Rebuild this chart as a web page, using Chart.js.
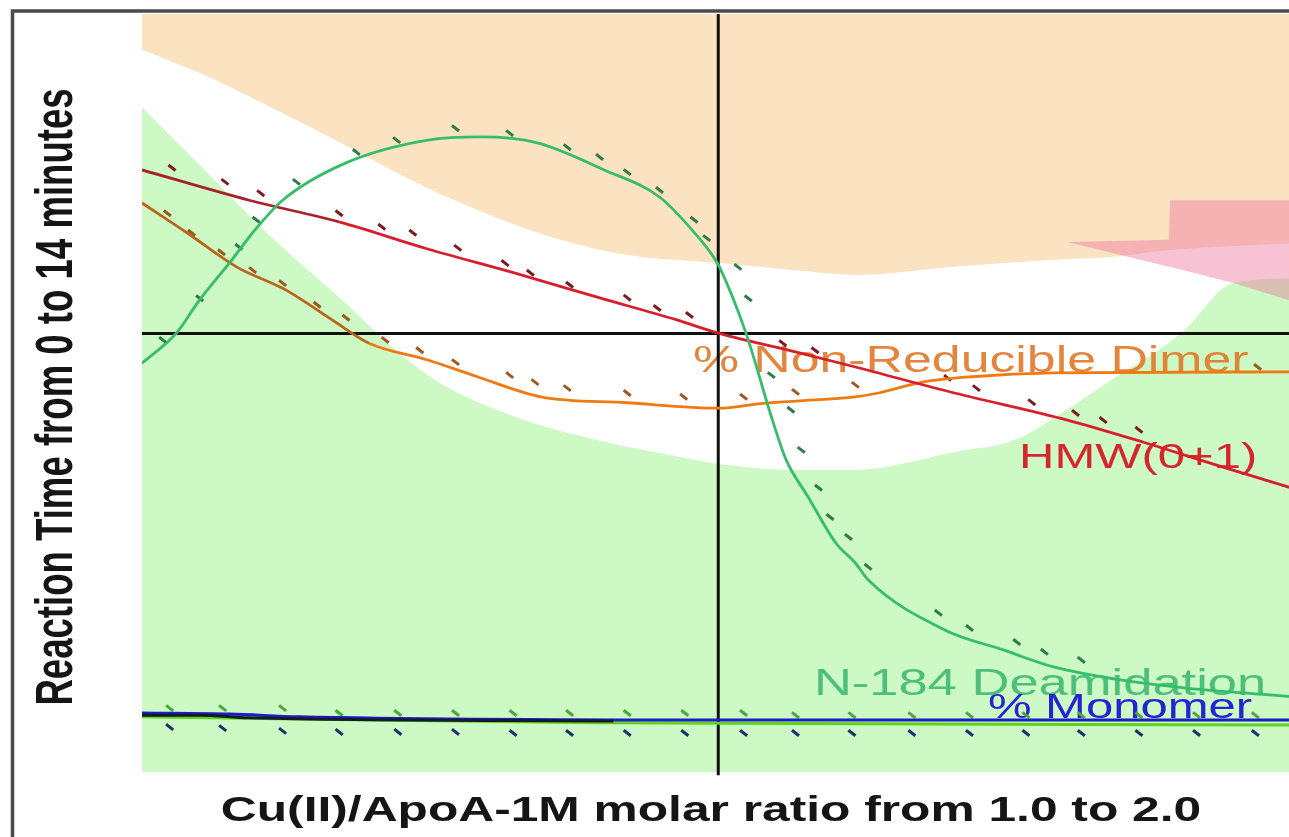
<!DOCTYPE html>
<html lang="en">
<head>
<meta charset="UTF-8" />
<title>Contour Profiler</title>
<script src="https://cdn.jsdelivr.net/npm/chart.js"></script>
<style>
  html, body { margin: 0; padding: 0; background: #fff; overflow: hidden; }
  canvas { display: block; }
</style>
</head>
<body>
<canvas id="profiler" width="1302" height="837"></canvas>
<script>
  // x: Cu(II)/ApoA-1M molar ratio, y: reaction time (min)
  const xRange = [1.0, 2.0];
  const yRange = [0, 14];
  const crossX = 1.5;
  const crossY = 8.1;

  // shaded regions (lower edge of the upper band, upper edge of the lower band)
  const tanX = [1.000, 1.050, 1.108, 1.165, 1.248, 1.306, 1.363, 1.421, 1.501, 1.565, 1.619, 1.705, 1.791, 1.841, 1.892, 2.000];
  const tanY = [13.34, 12.91, 12.32, 11.70, 10.78, 10.25, 9.83, 9.55, 9.40, 9.27, 9.18, 9.33, 9.46, 9.51, 9.64, 9.77];
  const greenX = [1.000, 1.050, 1.108, 1.162, 1.248, 1.320, 1.395, 1.449, 1.507, 1.567, 1.619, 1.705, 1.757, 1.798, 1.841, 1.902, 1.947, 2.000];
  const greenY = [12.28, 11.21, 9.96, 8.94, 7.33, 6.59, 6.13, 5.89, 5.67, 5.58, 5.58, 5.91, 6.13, 6.63, 7.24, 8.11, 9.03, 9.12];
  const pinkX = [1.803, 1.891, 1.892, 1.947, 2.000];
  const pinkTopY = [9.79, 9.83, 10.56, 10.56, 10.56];
  const pinkBotY = [9.79, 9.33, 9.33, 9.03, 8.68];

  // HMW(0+1)
  const hmwX = [1.000, 1.093, 1.171, 1.248, 1.326, 1.395, 1.464, 1.501, 1.567, 1.619, 1.705, 1.803, 1.869, 1.938, 2.000];
  const hmwY = [11.12, 10.56, 10.16, 9.66, 9.20, 8.77, 8.35, 8.10, 7.76, 7.48, 7.00, 6.50, 6.09, 5.63, 5.23];
  const hmwTickX = [1.026, 1.072, 1.103, 1.171, 1.208, 1.235, 1.274, 1.315, 1.337, 1.371, 1.421, 1.447, 1.475, 1.556, 1.584, 1.699, 1.724, 1.772, 1.810, 1.834, 1.865];
  const hmwTickY = [11.16, 10.90, 10.69, 10.32, 10.07, 9.96, 9.68, 9.40, 9.22, 9.00, 8.76, 8.57, 8.44, 7.92, 7.79, 7.28, 7.09, 6.83, 6.63, 6.50, 6.32];

  // % Non-Reducible Dimer
  const dimerX = [1.000, 1.039, 1.082, 1.125, 1.165, 1.197, 1.248, 1.291, 1.346, 1.421, 1.501, 1.535, 1.567, 1.619, 1.639, 1.677, 1.720, 1.791, 2.000];
  const dimerY = [10.51, 9.96, 9.33, 8.90, 8.35, 7.92, 7.61, 7.30, 6.93, 6.82, 6.72, 6.80, 6.85, 6.93, 7.00, 7.20, 7.30, 7.37, 7.39];
  const dimerTickX = [1.022, 1.043, 1.069, 1.096, 1.122, 1.152, 1.177, 1.211, 1.241, 1.272, 1.319, 1.341, 1.369, 1.421, 1.470, 1.522, 1.567, 1.619, 1.968];
  const dimerTickY = [10.32, 9.96, 9.60, 9.27, 9.03, 8.63, 8.39, 7.98, 7.79, 7.57, 7.33, 7.20, 7.09, 7.00, 6.93, 6.93, 7.02, 7.15, 7.48];

  // N-184 Deamidation
  const deamidX = [1.000, 1.030, 1.050, 1.078, 1.096, 1.122, 1.177, 1.248, 1.294, 1.343, 1.401, 1.449, 1.481, 1.496, 1.501, 1.524, 1.547, 1.559, 1.578, 1.602, 1.619, 1.630, 1.697, 1.748, 1.791, 1.849, 1.906, 2.000];
  const deamidY = [7.55, 8.11, 8.72, 9.46, 9.96, 10.56, 11.25, 11.67, 11.73, 11.62, 11.12, 10.62, 9.92, 9.51, 9.33, 8.11, 6.50, 5.76, 5.08, 4.23, 3.86, 3.55, 2.62, 2.25, 1.94, 1.70, 1.55, 1.39];
  const deamidTickX = [1.018, 1.050, 1.084, 1.099, 1.134, 1.186, 1.221, 1.272, 1.319, 1.369, 1.397, 1.421, 1.449, 1.479, 1.490, 1.517, 1.526, 1.546, 1.563, 1.572, 1.587, 1.597, 1.613, 1.630, 1.691, 1.718, 1.759, 1.783, 1.815];
  const deamidTickY = [7.98, 8.75, 9.70, 10.20, 10.90, 11.45, 11.67, 11.89, 11.80, 11.54, 11.36, 11.08, 10.75, 10.20, 9.86, 9.33, 8.75, 7.33, 6.69, 5.95, 5.25, 4.71, 4.34, 3.79, 2.94, 2.66, 2.40, 2.22, 2.07];

  // % Monomer and the two lines lying under it
  const monomerX = [1.000, 1.076, 1.136, 1.500, 2.000];
  const monomerY = [1.09, 1.07, 1.02, 0.96, 0.96];
  const darkX = [1.000, 1.050, 1.093, 1.409];
  const darkY = [1.05, 1.05, 1.00, 0.94];
  const limeX = [1.000, 1.395, 2.000];
  const limeY = [1.02, 0.91, 0.87];
  const monoTickX = [1.024, 1.070, 1.122, 1.171, 1.222, 1.272, 1.322, 1.371, 1.421, 1.471, 1.522, 1.567, 1.616, 1.668, 1.718, 1.767, 1.815, 1.865, 1.915, 1.966];
  const monoTickY = [0.83, 0.81, 0.76, 0.74, 0.74, 0.74, 0.72, 0.72, 0.72, 0.72, 0.72, 0.72, 0.72, 0.72, 0.72, 0.72, 0.72, 0.72, 0.72, 0.72];
  const limeTickY = [1.18, 1.18, 1.18, 1.09, 1.09, 1.09, 1.09, 1.09, 1.09, 1.09, 1.09, 1.05, 1.05, 1.05, 1.05, 1.05, 1.05, 1.05, 1.05, 1.05];

  const TEXT_STRETCH = 1.4;
  const FONT = '"Liberation Sans", Arial, sans-serif';

  const curveLabels = [
    { text: '% Non-Reducible Dimer', x: 1.478, y: 7.39, size: 37, color: 'rgba(224,120,40,0.9)' },
    { text: 'HMW(0+1)', x: 1.761, y: 5.61, size: 35, color: '#d4262c' },
    { text: 'N-184 Deamidation', x: 1.583, y: 1.42, size: 37.5, color: 'rgba(64,186,116,0.92)' },
    { text: '% Monomer', x: 1.734, y: 1.00, size: 35, color: '#2424d2' }
  ];

  const pts = (xs, ys) => xs.map((x, i) => ({ x, y: ys[i] }));

  const areaDs = (xs, ys, color, fill, order, smooth) => ({
    data: pts(xs, ys), borderWidth: 0, borderColor: 'rgba(0,0,0,0)',
    backgroundColor: color, fill, pointRadius: 0, order,
    cubicInterpolationMode: smooth ? 'monotone' : 'default', tension: 0
  });

  const lineDs = (xs, ys, color, width, order, extra) => Object.assign({
    data: pts(xs, ys), borderColor: color, borderWidth: width,
    pointRadius: 0, fill: false, cubicInterpolationMode: 'monotone', order
  }, extra || {});

  const tickDs = (xs, ys, color, order) => ({
    data: pts(xs, ys), showLine: false, pointStyle: 'line',
    pointRadius: 4.5, pointRotation: 38, pointBorderWidth: 3,
    pointBorderColor: color, pointBackgroundColor: color, order
  });

  // left end of the red and orange curves is drawn a shade darker
  const darkLeft = (dark, base) => ({ borderColor: c => c.p1.parsed.x <= 1.2 ? dark : base });

  const datasets = [
    areaDs(tanX, tanY, '#fbe3c2', 'end', 20, true),
    areaDs(greenX, greenY, '#ccf9c4', 'start', 19, true),
    areaDs(pinkX, pinkTopY, 'rgba(236,120,160,0.45)', '+1', 17, false),
    areaDs(pinkX, pinkBotY, 'rgba(0,0,0,0)', false, 18, false),

    // crosshairs
    lineDs([xRange[0], xRange[1]], [crossY, crossY], '#111', 3, 15),
    lineDs([crossX, crossX], [yRange[1], -0.06], '#111', 3, 15, { clip: false, cubicInterpolationMode: 'default' }),

    tickDs(hmwTickX, hmwTickY, '#7c1c20', 10),
    tickDs(dimerTickX, dimerTickY, '#9a5a20', 10),
    tickDs(deamidTickX, deamidTickY, '#2e7a4a', 10),
    tickDs(monoTickX, monoTickY, '#1d2f6e', 10),
    tickDs(monoTickX, limeTickY, '#4aa83a', 10),

    lineDs(limeX, limeY, '#5ed41e', 3, 8),
    lineDs(monomerX, monomerY, '#1c1cc8', 3, 7),
    lineDs(darkX, darkY, '#141a2a', 3, 6),
    lineDs(dimerX, dimerY, '#f07a12', 2.8, 5, { segment: darkLeft('#b8661e', '#f07a12') }),
    lineDs(hmwX, hmwY, '#d81e2c', 2.8, 4, { segment: darkLeft('#a8222a', '#d81e2c') }),
    lineDs(deamidX, deamidY, '#36bd6c', 2.8, 3)
  ];

  function stretchText(ctx, text, px, py, size, weight, color, align) {
    ctx.save();
    ctx.translate(px, py);
    ctx.scale(TEXT_STRETCH, 1);
    ctx.font = `${weight} ${size}px ${FONT}`;
    ctx.fillStyle = color;
    ctx.textAlign = align;
    ctx.textBaseline = 'alphabetic';
    ctx.fillText(text, 0, 0);
    ctx.restore();
  }

  // curve names go above the shading but under the curves
  const curveLabelPlugin = {
    id: 'curveLabels',
    afterDatasetDraw(chart, args) {
      if (args.index !== 2) return;
      const { ctx, scales, chartArea } = chart;
      ctx.save();
      ctx.beginPath();
      ctx.rect(chartArea.left, chartArea.top, chartArea.width, chartArea.height);
      ctx.clip();
      curveLabels.forEach(l => {
        stretchText(ctx, l.text, scales.x.getPixelForValue(l.x), scales.y.getPixelForValue(l.y),
          l.size, 'normal', l.color, 'left');
      });
      ctx.restore();
    }
  };

  // white page, grey frame and the two axis titles
  const framePlugin = {
    id: 'frame',
    beforeDraw(chart) {
      const { ctx } = chart;
      ctx.save();
      ctx.fillStyle = '#fff';
      ctx.fillRect(0, 0, chart.width, chart.height);
      ctx.restore();
    },
    afterDraw(chart) {
      const { ctx } = chart;
      ctx.save();
      ctx.strokeStyle = '#4a4a4a';
      ctx.lineWidth = 3.5;
      ctx.strokeRect(12.5, 11, 1400, 900);

      stretchText(ctx, 'Cu(II)/ApoA-1M molar ratio from 1.0 to 2.0', 711, 821, 35.5, 'bold', '#151515', 'center');

      ctx.translate(72, 397);
      ctx.scale(TEXT_STRETCH, 1);
      ctx.rotate(-Math.PI / 2);
      ctx.font = `bold 36.6px ${FONT}`;
      ctx.fillStyle = '#151515';
      ctx.textAlign = 'center';
      ctx.textBaseline = 'alphabetic';
      ctx.fillText('Reaction Time from 0 to 14 minutes', 0, 0);
      ctx.restore();
    }
  };

  new Chart(document.getElementById('profiler'), {
    type: 'line',
    data: { datasets },
    options: {
      responsive: false,
      devicePixelRatio: 1,
      animation: false,
      events: [],
      layout: { padding: { left: 142, top: 14, right: 0, bottom: 65 } },
      plugins: { legend: { display: false }, tooltip: { enabled: false } },
      scales: {
        x: { type: 'linear', min: xRange[0], max: xRange[1], display: false },
        y: { type: 'linear', min: yRange[0], max: yRange[1], display: false }
      }
    },
    plugins: [framePlugin, curveLabelPlugin]
  });
</script>
</body>
</html>
